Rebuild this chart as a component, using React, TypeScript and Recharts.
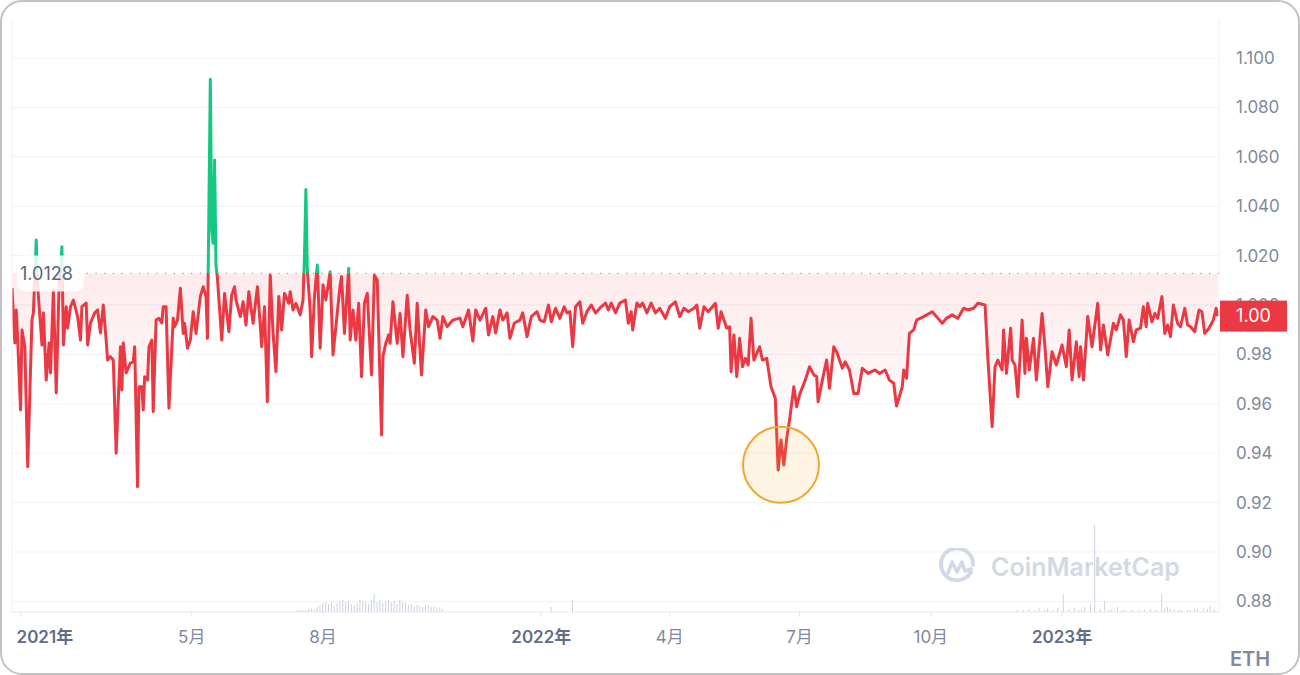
import React from 'react';
import {
  ComposedChart,
  Area,
  Bar,
  XAxis,
  YAxis,
  CartesianGrid,
  ReferenceLine,
  ReferenceDot,
} from 'recharts';

// Day offsets counted from 2021-01-01
const days = [
  -6, -4, -3, -2, 0, 1, 3, 5, 8, 9, 11, 12, 15, 16, 18, 20, 21, 23, 25, 27, 29, 30, 32, 33, 35, 37, 40, 42, 43, 46,
  47, 49, 52, 54, 56, 58, 60, 61, 63, 65, 67, 70, 71, 72, 74, 77, 79, 80, 82, 83, 85, 86, 87, 89, 90, 92, 93, 95, 97, 99,
  100, 102, 104, 107, 108, 110, 112, 114, 115, 117, 119, 121, 123, 126, 128, 130, 131, 133, 134, 135, 136, 137, 138, 141, 143, 146, 148, 150, 151, 154,
  156, 158, 160, 163, 166, 168, 169, 171, 173, 175, 177, 179, 181, 183, 185, 188, 189, 191, 193, 196, 198, 199, 200, 201, 203, 204, 206, 208, 210, 212,
  214, 217, 219, 221, 224, 225, 227, 230, 231, 233, 235, 237, 239, 241, 243, 246, 248, 250, 253, 254, 256, 258, 259, 261, 264, 266, 268, 271, 273, 276,
  278, 281, 284, 286, 289, 292, 294, 296, 299, 303, 308, 310, 314, 317, 319, 322, 326, 328, 331, 333, 336, 338, 341, 343, 346, 350, 352, 355, 358, 362,
  364, 367, 370, 372, 375, 378, 381, 383, 385, 387, 389, 392, 394, 397, 400, 403, 406, 410, 412, 414, 417, 420, 424, 426, 428, 429, 432, 434, 436, 439,
  442, 445, 448, 452, 455, 459, 462, 465, 468, 472, 474, 476, 479, 482, 487, 489, 491, 495, 497, 498, 500, 502, 504, 506, 508, 510, 512, 514, 518, 520,
  523, 526, 529, 531, 533, 535, 537, 539, 542, 544, 546, 550, 553, 556, 558, 559, 562, 565, 567, 570, 572, 576, 578, 581, 584, 587, 590, 594, 599, 602,
  606, 609, 612, 614, 618, 619, 621, 623, 626, 628, 633, 639, 642, 646, 649, 653, 657, 661, 664, 668, 671, 676, 678, 681, 683, 685, 688, 689, 691, 694,
  695, 697, 699, 702, 704, 705, 707, 710, 712, 716, 718, 720, 723, 726, 730, 733, 735, 737, 740, 742, 743, 745, 748, 751, 755, 757, 759, 762, 766, 768,
  771, 773, 775, 777, 780, 782, 785, 787, 789, 790, 793, 795, 797, 800, 802, 804, 806, 808, 811, 813, 816, 818, 820, 823, 826, 828, 830, 833, 836, 838,
  839,
];

const ratio = [
  1.0069, 0.9846, 0.998, 0.9858, 0.9575, 0.9899, 0.9831, 0.9345, 0.9939, 0.9968, 1.0263, 1.0074, 0.9838, 0.9968, 0.9696, 0.9846, 0.9725, 1.0061, 0.9644, 1.0074, 1.0236, 0.9838, 0.9993, 0.9907, 0.9993, 1.002, 0.9953, 0.9858, 0.9993, 1.0008,
  0.9838, 0.9927, 0.9968, 0.998, 0.9887, 1.0, 0.9858, 0.9777, 0.9791, 0.9777, 0.94, 0.9831, 0.9656, 0.9846, 0.9725, 0.9765, 0.977, 0.9831, 0.9264, 0.9669, 0.9669, 0.9575, 0.971, 0.9696, 0.9831, 0.9858, 0.9568, 0.9939, 0.9946, 0.9927,
  0.9993, 0.9993, 0.9582, 0.9946, 0.9912, 0.9939, 1.0068, 0.9885, 0.9926, 0.9825, 0.9858, 0.9973, 0.9885, 1.0034, 1.0074, 1.0034, 0.9865, 1.0914, 1.03, 1.025, 1.0587, 1.016, 1.0108, 0.9858, 1.0047, 0.9892, 1.004, 1.0074, 1.002, 0.9953,
  1.0013, 0.9919, 1.0054, 0.9926, 1.0074, 0.9919, 0.9831, 0.9993, 0.9608, 1.0121, 0.9885, 0.973, 1.0034, 0.9899, 1.0047, 1.0007, 1.0054, 0.998, 1.0007, 0.996, 1.002, 1.02, 1.0468, 1.014, 0.998, 0.9791, 1.0034, 1.0162, 0.9825, 1.0081,
  1.002, 1.0135, 0.9798, 0.9912, 1.0081, 1.0115, 0.9885, 1.0149, 0.9858, 0.998, 0.9858, 1.0007, 0.971, 1.0007, 1.0047, 0.9717, 1.0121, 1.0101, 0.9474, 0.9791, 0.9845, 0.9879, 0.9845, 1.0013, 0.9845, 0.9966, 0.9791, 1.004, 0.9899, 0.9764,
  1.0007, 0.9717, 0.998, 0.9912, 0.9953, 0.9939, 0.9865, 0.9953, 0.9912, 0.9939, 0.9947, 0.9912, 0.998, 0.9854, 0.998, 0.9939, 0.9987, 0.9879, 0.9953, 0.9887, 0.998, 0.9939, 0.9968, 0.9865, 0.9926, 0.9939, 0.9968, 0.9872, 0.9953, 0.9973,
  0.9939, 0.9932, 1.0, 0.9932, 0.9987, 0.9946, 0.9993, 0.9968, 0.9973, 0.9831, 0.9993, 1.0013, 0.9926, 0.9973, 1.0, 0.9968, 0.9987, 1.0008, 0.998, 1.0008, 0.9968, 1.0008, 1.002, 0.9926, 0.9973, 0.9899, 1.0008, 0.9993, 1.0008, 0.9968,
  1.0008, 0.9968, 0.9987, 0.9946, 0.9993, 1.0013, 0.9953, 0.9987, 0.9973, 0.9987, 1.0, 0.9906, 0.9993, 0.9973, 1.0007, 0.9906, 0.9973, 0.9906, 0.9912, 0.973, 0.9879, 0.971, 0.9865, 0.975, 0.9784, 0.9757, 0.9946, 0.9777, 0.9831, 0.9777,
  0.9784, 0.9669, 0.9622, 0.9332, 0.9453, 0.9352, 0.946, 0.9534, 0.9669, 0.9588, 0.9636, 0.9696, 0.975, 0.9717, 0.971, 0.9608, 0.9696, 0.9777, 0.9663, 0.9831, 0.9811, 0.9744, 0.977, 0.9737, 0.9642, 0.9642, 0.9744, 0.9723, 0.9737, 0.9723,
  0.9737, 0.9696, 0.9683, 0.9591, 0.9669, 0.9737, 0.9703, 0.9885, 0.9899, 0.9939, 0.9953, 0.9973, 0.9953, 0.9926, 0.9946, 0.996, 0.9946, 0.9987, 0.998, 0.9987, 1.0007, 1.0, 0.9784, 0.9507, 0.975, 0.9777, 0.9737, 0.9899, 0.9723, 0.9906,
  0.9777, 0.9757, 0.9629, 0.9939, 0.9723, 0.9865, 0.9737, 0.9865, 0.9696, 0.9966, 0.9831, 0.9669, 0.9811, 0.9757, 0.9838, 0.975, 0.9899, 0.9696, 0.9851, 0.971, 0.9831, 0.9696, 0.9953, 0.9831, 1.0007, 0.9818, 0.9919, 0.9798, 0.9926, 0.9899,
  0.996, 0.9939, 0.9791, 0.9939, 0.9851, 0.9899, 0.9906, 0.9993, 0.9912, 1.0007, 0.9932, 0.9966, 0.9946, 1.0034, 0.9885, 0.9919, 0.9872, 1.0, 0.9926, 0.9912, 0.9987, 0.9919, 0.9912, 0.9892, 0.998, 0.9973, 0.9885, 0.9906, 0.9939, 0.9987,
  0.9955,
];

// Trading volume (arbitrary units), only where bars are visible
const volumeDays = [
  194, 196, 198, 200, 202, 204, 206, 208, 210, 212, 214, 216, 218, 220, 222, 224, 226, 228, 230, 232, 234, 236, 238, 240, 242, 244, 246, 248, 250, 252,
  254, 256, 258, 260, 262, 264, 266, 268, 270, 272, 274, 276, 278, 280, 282, 284, 286, 288, 290, 292, 294, 296, 308, 372, 387, 619,
  699, 703, 707, 711, 714, 718, 720, 724, 727, 731, 735, 739, 742, 744, 746, 750, 753, 757, 760, 763, 765, 769, 772, 774, 779, 784, 788, 792, 796, 800,
  802, 804, 806, 809, 812, 814, 818, 820, 823, 825, 829, 832, 834, 837,
];
const volume = [
  2, 2, 2, 2, 3, 3, 3, 5, 7, 9, 10, 8, 10, 6, 9, 11, 12, 10, 11, 8, 7, 9, 12, 11, 10, 8, 12, 18, 10, 12,
  9, 11, 12, 10, 11, 8, 12, 10, 9, 7, 8, 6, 7, 6, 5, 6, 7, 5, 6, 4, 5, 3, 1, 5, 12, 1,
  2, 2, 3, 2, 4, 2, 3, 2, 4, 18, 3, 4, 2, 3, 5, 8, 87, 3, 11, 2, 3, 5, 2, 2, 2, 2, 2, 3, 2, 18,
  4, 5, 3, 3, 2, 2, 2, 2, 3, 3, 4, 3, 6, 3,
];

const tickDays = [0, 120, 212, 365, 455, 546, 638, 730];
const tickLabels = ['2021年', '5月', '8月', '2022年', '4月', '7月', '10月', '2023年'];
const yTicks = [0.88, 0.9, 0.92, 0.94, 0.96, 0.98, 1.0, 1.02, 1.04, 1.06, 1.08, 1.1];

const baseline = 1.0128;
const highlightDay = 533;
const highlightValue = 0.9353;

const RED = '#ea3943';
const GREEN = '#16c784';
const FONT = "Inter, 'Noto Sans CJK SC', sans-serif";
const Y_DOMAIN: [number, number] = [0.8757, 1.1154];

const byDay = new Map<number, any>();
days.forEach((d, i) => byDay.set(d, { t: d, r: ratio[i] }));
volumeDays.forEach((d, i) => {
  const e = byDay.get(d) || { t: d };
  e.v = volume[i];
  byDay.set(d, e);
});
const data = Array.from(byDay.values()).sort((a, b) => a.t - b.t);

const maxR = Math.max(...ratio);
const minR = Math.min(...ratio);
const off = (maxR - baseline) / (maxR - minR);
const lastValue = ratio[ratio.length - 1];
// the latest price is drawn as the last tick so it sits on top of the "1.000" label
const axisTicks = [...yTicks, lastValue];

const XTick = (props: any) => {
  const { x, y, payload } = props;
  const i = tickDays.indexOf(payload.value);
  const label = tickLabels[i] ?? '';
  const isYear = label.includes('年');
  const first = i === 0;
  return (
    <text
      x={first ? x - 4 : x}
      y={y + 26}
      textAnchor={first ? 'start' : 'middle'}
      fill={isYear ? '#616e85' : '#808a9d'}
      fontSize={17}
      fontWeight={isYear ? 600 : 400}
      fontFamily={FONT}
    >
      {label}
    </text>
  );
};

const YTick = (props: any) => {
  const { x, y, payload } = props;
  const v = payload.value;
  if (v === lastValue) {
    const rx = x - 16;
    return (
      <g>
        <rect x={rx} y={y - 15.5} width={67} height={31} fill={RED} />
        <text x={rx + 33.5} y={y} dy="0.35em" textAnchor="middle" fill="#ffffff" fontSize={18} fontFamily={FONT}>
          {v.toFixed(2)}
        </text>
      </g>
    );
  }
  return (
    <text x={x} y={y} dy="0.35em" textAnchor="start" fill="#808a9d" fontSize={17} fontFamily={FONT}>
      {v >= 0.999 ? v.toFixed(3) : v.toFixed(2)}
    </text>
  );
};

const BaseLabel = (props: any) => {
  const { viewBox } = props;
  const x = viewBox.x;
  const y = viewBox.y;
  return (
    <g>
      <rect x={x + 5} y={y - 18} width={67} height={36} rx={8} fill="#ffffff" fillOpacity={0.85} />
      <text x={x + 8} y={y} dy="0.35em" fill="#58667e" fontSize={18} fontFamily={FONT}>
        {baseline.toFixed(4)}
      </text>
    </g>
  );
};

export default function App() {
  return (
    <div
      style={{
        position: 'absolute',
        left: 0,
        top: 0,
        width: 1300,
        height: 675,
        background: '#ffffff',
        fontFamily: FONT,
        overflow: 'hidden',
      }}
    >
      <ComposedChart
        width={1300}
        height={675}
        data={data}
        margin={{ top: 20, right: 0, bottom: 0, left: 12 }}
      >
        <defs>
          <linearGradient id="strokeSplit" x1="0" y1="0" x2="0" y2="1">
            <stop offset={0} stopColor={GREEN} />
            <stop offset={off} stopColor={GREEN} />
            <stop offset={off} stopColor={RED} />
            <stop offset={1} stopColor={RED} />
          </linearGradient>
          <linearGradient id="fillSplit" x1="0" y1="0" x2="0" y2="1">
            <stop offset={0} stopColor={GREEN} stopOpacity={0.1} />
            <stop offset={off} stopColor={GREEN} stopOpacity={0.06} />
            <stop offset={off} stopColor={RED} stopOpacity={0.1} />
            <stop offset={Math.min(1, off + 0.25)} stopColor={RED} stopOpacity={0.05} />
            <stop offset={1} stopColor={RED} stopOpacity={0.0} />
          </linearGradient>
        </defs>
        <CartesianGrid vertical={false} stroke="#eff2f5" strokeWidth={1} horizontalValues={yTicks} />
        <XAxis
          dataKey="t"
          type="number"
          domain={[-6, 840]}
          ticks={tickDays}
          interval={0}
          allowDataOverflow
          height={63}
          tick={<XTick />}
          tickSize={5}
          tickMargin={0}
          tickLine={{ stroke: '#e3e7ee' }}
          axisLine={{ stroke: '#e3e7ee' }}
        />
        <YAxis
          orientation="right"
          type="number"
          domain={Y_DOMAIN}
          ticks={axisTicks}
          interval={0}
          allowDataOverflow
          width={81}
          tickSize={0}
          tickMargin={17}
          tick={<YTick />}
          axisLine={{ stroke: '#eef0f4' }}
        />
        <YAxis yAxisId="vol" hide domain={[0, 592]} />
        <ReferenceLine x={-6} stroke="#eef0f4" />
        <Bar
          yAxisId="vol"
          dataKey="v"
          barSize={1}
          fill="#cbd3e1"
          isAnimationActive={false}
        />
        <ReferenceDot
          x={highlightDay}
          y={highlightValue}
          r={38}
          fill="#f7a623"
          fillOpacity={0.12}
          stroke="#f3a530"
          strokeWidth={2}
          ifOverflow="visible"
        />
        <Area
          type="linear"
          dataKey="r"
          baseValue={baseline}
          connectNulls
          stroke="url(#strokeSplit)"
          strokeWidth={3}
          strokeLinejoin="round"
          fill="url(#fillSplit)"
          fillOpacity={1}
          dot={false}
          activeDot={false}
          isAnimationActive={false}
        />
        <ReferenceLine
          y={baseline}
          stroke="#9aa3b5"
          strokeWidth={1.3}
          strokeDasharray="1.3 7.4"
          label={<BaseLabel />}
        />
      </ComposedChart>

      <div
        style={{
          position: 'absolute',
          left: 938,
          top: 548,
          height: 38,
          display: 'flex',
          alignItems: 'center',
          gap: 15,
          pointerEvents: 'none',
        }}
      >
        <svg width={38} height={38} viewBox="0 0 38 38">
          <path
            d="M33 24 A16 16 0 1 1 35 17"
            fill="none"
            stroke="#d3d9e4"
            strokeWidth={4}
            strokeLinecap="round"
          />
          <path
            d="M10 25 L14 14 L19 24 L24 14 L27 23 L33 21"
            fill="none"
            stroke="#d3d9e4"
            strokeWidth={3.6}
            strokeLinecap="round"
            strokeLinejoin="round"
          />
        </svg>
        <span
          style={{
            fontFamily: FONT,
            fontSize: 25,
            fontWeight: 600,
            color: '#d3d9e4',
            lineHeight: '38px',
          }}
        >
          CoinMarketCap
        </span>
      </div>

      <div
        style={{
          position: 'absolute',
          left: 1230,
          top: 649,
          fontFamily: FONT,
          fontSize: 20,
          fontWeight: 600,
          color: '#808a9d',
          lineHeight: '20px',
        }}
      >
        ETH
      </div>

      <div
        style={{
          position: 'absolute',
          left: 0,
          top: 0,
          width: 1300,
          height: 675,
          boxSizing: 'border-box',
          border: '2px solid #c2c2c2',
          borderRadius: 22,
          pointerEvents: 'none',
        }}
      />
    </div>
  );
}
